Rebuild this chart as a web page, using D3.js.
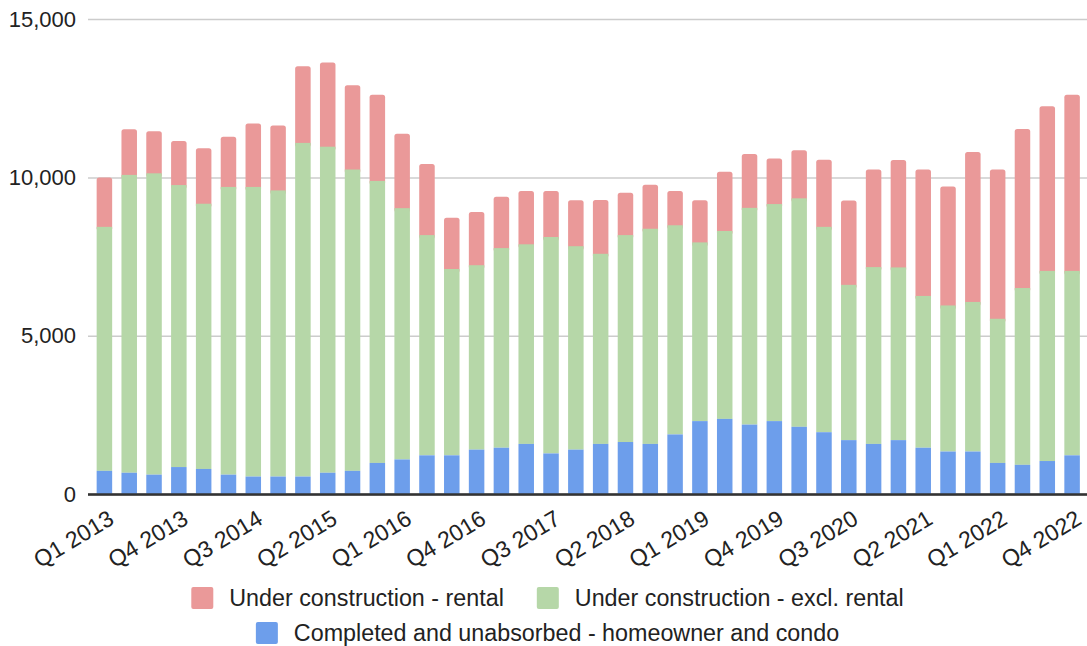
<!DOCTYPE html>
<html lang="en">
<head>
<meta charset="utf-8">
<title>Housing inventory stacked bars</title>
<script src="https://cdn.jsdelivr.net/npm/d3@7/dist/d3.min.js"></script>
<style>
    body { margin: 0; background: #fff; }
    text { font-family: "Liberation Sans", Arial, sans-serif; fill: #222; }
</style>
</head>
<body>
<script>
    var years = [2013, 2014, 2015, 2016, 2017, 2018, 2019, 2020, 2021, 2022];
    var qNames = ["Q1", "Q2", "Q3", "Q4"];
    var quarters = [];
    years.forEach(function (y) {
        qNames.forEach(function (q) { quarters.push(q + " " + y); });
    });

    // completed and unabsorbed - homeowner and condo
    var completed = [740, 680, 620, 860, 800, 620, 560, 560, 560, 680,
        740, 990, 1100, 1230, 1230, 1410, 1470, 1590, 1290, 1410,
        1590, 1650, 1590, 1890, 2310, 2380, 2200, 2310, 2130, 1960,
        1710, 1590, 1710, 1470, 1350, 1350, 990, 930, 1050, 1230];
    // under construction - excl. rental
    var exclRental = [7700, 9400, 9510, 8900, 8370, 9080, 9140, 9030, 10530, 10290,
        9510, 8900, 7930, 6950, 5880, 5820, 6300, 6300, 6830, 6420,
        6000, 6530, 6790, 6600, 5640, 5930, 6840, 6850, 7210, 6480,
        4900, 5580, 5450, 4790, 4610, 4720, 4550, 5580, 6000, 5820];
    // under construction - rental
    var rental = [1560, 1440, 1330, 1390, 1750, 1580, 2000, 2050, 2420, 2660,
        2660, 2720, 2350, 2240, 1620, 1680, 1620, 1680, 1450, 1450,
        1700, 1340, 1390, 1080, 1330, 1870, 1700, 1440, 1520, 2120,
        2660, 3080, 3390, 3990, 3750, 4730, 4710, 5020, 5200, 5560];

    var yTicks = [0, 5000, 10000, 15000];
    var keys = ["completed", "exclRental", "rental"];
    var labels = {
        rental: "Under construction - rental",
        exclRental: "Under construction - excl. rental",
        completed: "Completed and unabsorbed - homeowner and condo"
    };
    var colors = { completed: "#6d9eeb", exclRental: "#b6d7a8", rental: "#ea9999" };

    var w = 1087, h = 646;
    var rows = quarters.map(function (q, i) {
        return { q: q, completed: completed[i], exclRental: exclRental[i], rental: rental[i] };
    });

    var svg = d3.select("body").append("svg")
        .attr("width", w)
        .attr("height", h);

    var x = d3.scaleBand()
        .domain(quarters)
        .range([92, 1084.5])
        .paddingInner(0.375)
        .paddingOuter(0.1875);

    var y = d3.scaleLinear()
        .domain([0, 15000])
        .range([494.3, 19]);

    //gridlines + y labels
    var yAxis = d3.axisLeft(y)
        .tickValues(yTicks)
        .tickSize(0)
        .tickPadding(12)
        .tickFormat(d3.format(","));
    var gy = svg.append("g")
        .attr("transform", "translate(88,0)")
        .call(yAxis);
    gy.select(".domain").remove();
    gy.selectAll("text")
        .attr("font-size", 22)
        .attr("fill", "#222")
        .attr("font-family", "Liberation Sans, Arial, sans-serif");
    gy.selectAll(".tick").append("line")
        .attr("x1", 0)
        .attr("x2", w - 88)
        .attr("stroke", function (d) { return d === 0 ? "#333" : "#ccc"; })
        .attr("stroke-width", function (d) { return d === 0 ? 2 : 1.5; });

    //stacked bars
    var stack = d3.stack().keys(keys);
    var series = stack(rows);

    // draw top segment first so lower ones cover its rounded bottom
    series.slice().reverse().forEach(function (s) {
        var isTop = s.key === "rental";
        svg.append("g")
            .selectAll("rect")
            .data(s)
            .enter()
            .append("rect")
            .attr("x", function (d) { return x(d.data.q); })
            .attr("width", x.bandwidth())
            .attr("y", function (d) { return y(d[1]); })
            .attr("height", function (d) { return y(d[0]) - y(d[1]) + (isTop ? 4 : 0); })
            .attr("rx", isTop ? 2.5 : 0)
            .attr("fill", colors[s.key]);
    });

    // redraw baseline over bars
    svg.append("line")
        .attr("x1", 88).attr("x2", w)
        .attr("y1", y(0)).attr("y2", y(0))
        .attr("stroke", "#333")
        .attr("stroke-width", 2);

    //x labels, every third quarter
    var xTicks = quarters.filter(function (q, i) { return i % 3 === 0; });
    svg.append("g")
        .selectAll("text")
        .data(xTicks)
        .enter()
        .append("text")
        .attr("text-anchor", "end")
        .attr("font-size", 23)
        .attr("transform", function (d) {
            return "translate(" + (x(d) + x.bandwidth() / 2 + 11) + ",523) rotate(-31)";
        })
        .text(function (d) { return d; });

    //legend
    var legendRows = [["rental", "exclRental"], ["completed"]];
    var legendY = [598, 633];
    legendRows.forEach(function (row, r) {
        var g = svg.append("g");
        var cursor = 0;
        row.forEach(function (k, j) {
            if (j > 0) cursor += 33;
            g.append("rect")
                .attr("x", cursor)
                .attr("y", legendY[r] - 11)
                .attr("width", 22)
                .attr("height", 22)
                .attr("rx", 2)
                .attr("fill", colors[k]);
            var t = g.append("text")
                .attr("x", cursor + 38)
                .attr("y", legendY[r] + 8)
                .attr("font-size", 23.3)
                .text(labels[k]);
            cursor += 38 + t.node().getComputedTextLength();
        });
        g.attr("transform", "translate(" + (547.5 - cursor / 2) + ",0)");
    });
</script>
</body>
</html>
